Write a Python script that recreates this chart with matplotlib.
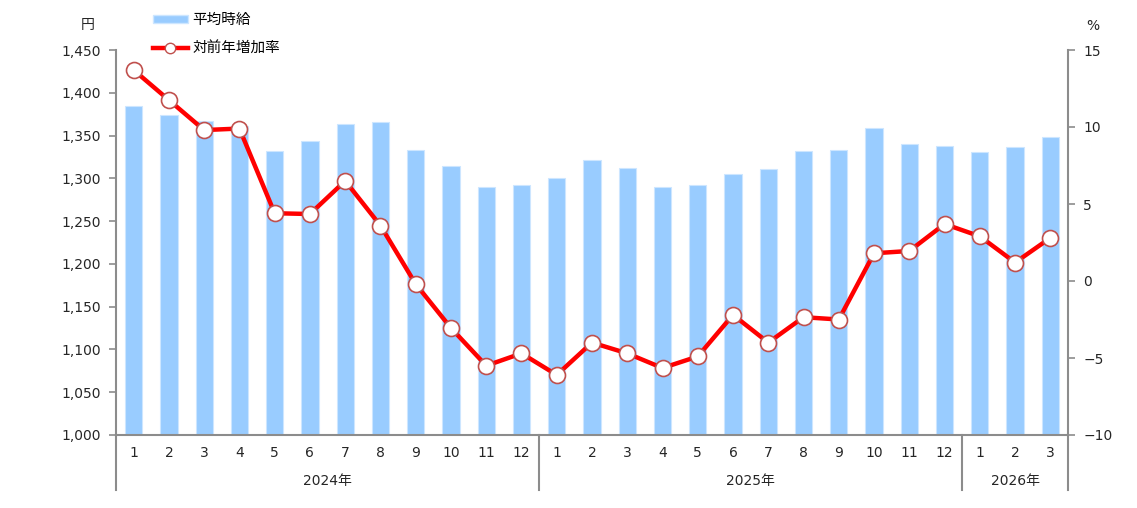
import matplotlib
matplotlib.use("Agg")
import matplotlib.pyplot as plt
import matplotlib.transforms as mtransforms
from matplotlib.lines import Line2D
from matplotlib.patches import Patch

plt.rcParams['font.family'] = ['DejaVu Sans', 'Noto Sans CJK JP']

months = ["1", "2", "3", "4", "5", "6", "7", "8", "9", "10", "11", "12",
          "1", "2", "3", "4", "5", "6", "7", "8", "9", "10", "11", "12",
          "1", "2", "3"]
years = ["2024年", "2025年", "2026年"]
year_counts = [12, 12, 3]
wage = [1385, 1374, 1367, 1361, 1332, 1344, 1363, 1366, 1333, 1314, 1290, 1292,
        1300, 1321, 1312, 1290, 1292, 1305, 1311, 1332, 1333, 1359, 1340, 1338,
        1331, 1337, 1348]
growth = [13.7, 11.75, 9.8, 9.9, 4.4, 4.35, 6.5, 3.6, -0.2, -3.05, -5.5, -4.7,
          -6.1, -4.0, -4.7, -5.65, -4.9, -2.2, -4.0, -2.35, -2.5, 1.8, 1.95, 3.7,
          2.9, 1.2, 2.8]
label_bar = "平均時給"
label_line = "対前年増加率"

W, H = 1137, 508
fig = plt.figure(figsize=(W / 100, H / 100), dpi=100)
ax = fig.add_axes([116 / W, 1 - 435 / H, (1068 - 116) / W, (435 - 50) / H])
ax2 = ax.twinx()

x = list(range(len(wage)))
bar_color = "#99CCFF"
ax.bar(x, wage, width=0.49, color=bar_color, edgecolor="#CDE6FF", linewidth=0.8, zorder=2)
ax.set_ylim(1000, 1450)
ax.set_yticks(range(1000, 1451, 50))
ax.set_yticklabels([f"{v:,}" for v in range(1000, 1451, 50)])
ax.set_xlim(-0.5, len(wage) - 0.5)

ax2.plot(x, growth, color="#FF0000", linewidth=3.2, marker="o", markersize=11.5,
         markerfacecolor="white", markeredgecolor="#C0504D", markeredgewidth=1.2,
         zorder=5, clip_on=False)
ax2.set_ylim(-10, 15)
ax2.set_yticks(range(-10, 16, 5))

spine_c = "#8C8C8C"
for a in (ax, ax2):
    for s in a.spines.values():
        s.set_visible(False)
ax.spines['left'].set_visible(True)
ax.spines['bottom'].set_visible(True)
ax2.spines['right'].set_visible(True)
for s in ('left', 'bottom'):
    ax.spines[s].set_color(spine_c)
    ax.spines[s].set_linewidth(1.5)
ax2.spines['right'].set_color(spine_c)
ax2.spines['right'].set_linewidth(1.5)

ax.tick_params(axis='y', direction='out', length=5, width=1.2, color=spine_c,
               labelsize=10, labelcolor="#262626", pad=6)
ax2.tick_params(axis='y', direction='out', length=5, width=1.2, color=spine_c,
                labelsize=10, labelcolor="#262626", pad=6)
ax.set_xticks([])

# category labels
trans = mtransforms.blended_transform_factory(ax.transData, ax.transAxes)
for i, m in enumerate(months):
    ax.text(i, -18 / 385, m, transform=trans, ha='center', va='center',
            fontsize=10, color="#262626")
start = 0
bounds = [-0.5]
for y, c in zip(years, year_counts):
    mid = start + (c - 1) / 2
    ax.text(mid, -46 / 385, y, transform=trans, ha='center', va='center',
            fontsize=10, color="#262626")
    start += c
    bounds.append(start - 0.5)
for b in bounds:
    ax.plot([b, b], [0, -55 / 385], transform=trans, color=spine_c,
            linewidth=1.5, clip_on=False)

fig.text(88 / W, 1 - 25 / H, "円", ha='center', va='center', fontsize=10, color="#262626")
fig.text(1093 / W, 1 - 26 / H, "%", ha='center', va='center', fontsize=10, color="#262626")

handles = [Patch(facecolor=bar_color, edgecolor="#CDE6FF"),
           Line2D([0], [0], color="#FF0000", linewidth=3.2, marker="o", markersize=7.5,
                  markerfacecolor="white", markeredgecolor="#C0504D")]
fig.legend(handles, [label_bar, label_line], loc='upper left',
           bbox_to_anchor=(150 / W, 1 - 9 / H), frameon=False, fontsize=10.5,
           handlelength=2.4, handleheight=0.5, handletextpad=0.3, labelspacing=0.95,
           borderaxespad=0, borderpad=0.2)

fig.savefig("out.png", dpi=100)
